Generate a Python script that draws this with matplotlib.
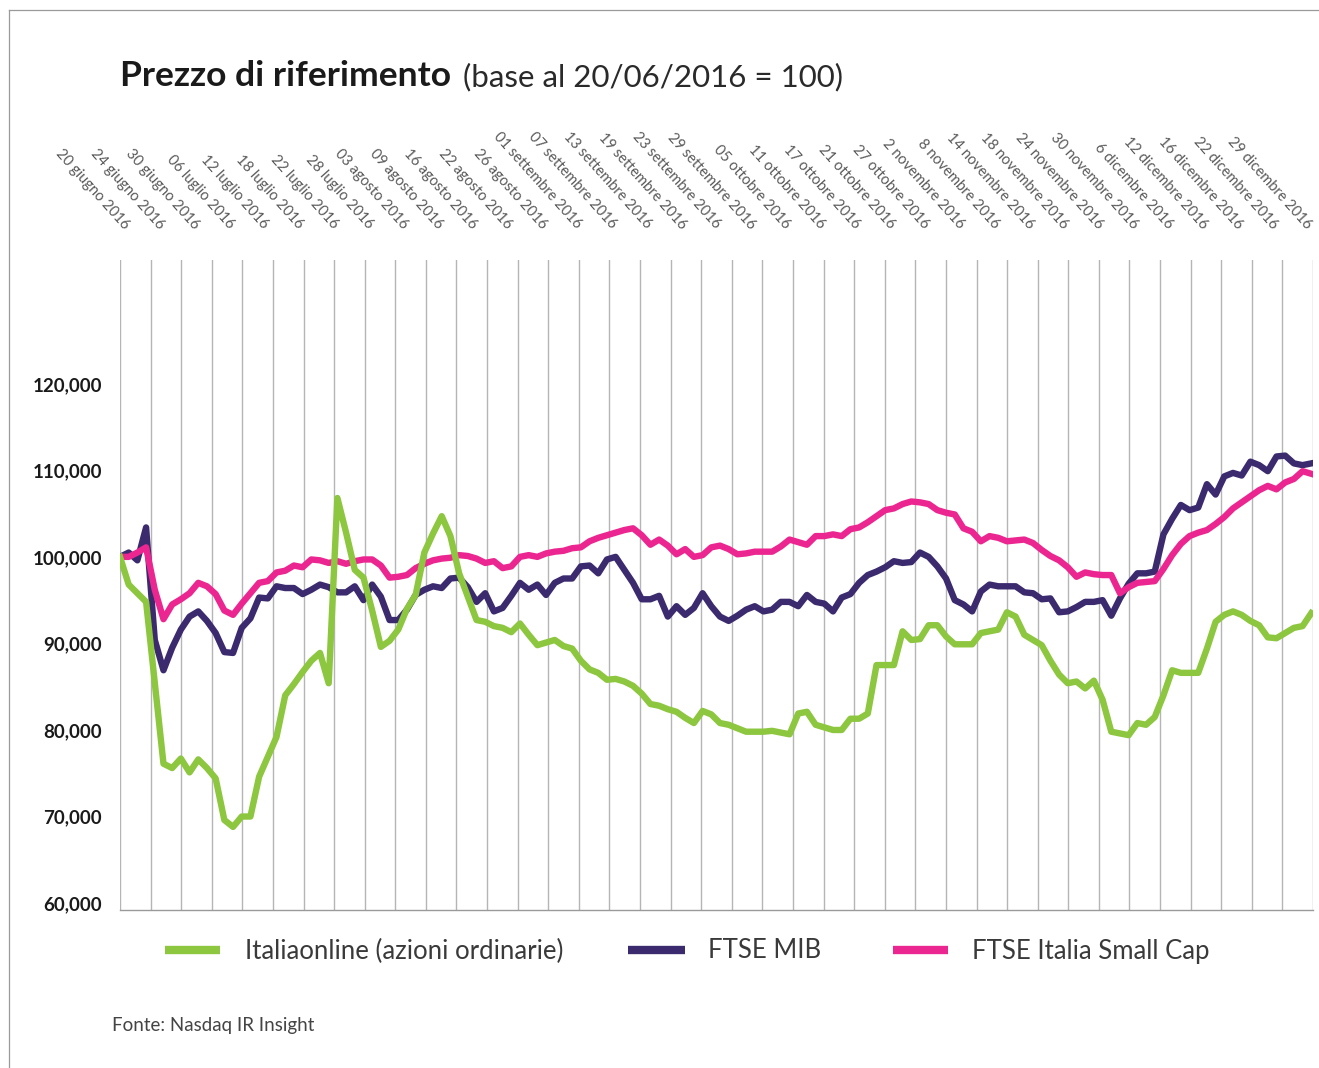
import matplotlib
matplotlib.use("Agg")
import matplotlib.pyplot as plt
from matplotlib.lines import Line2D
import numpy as np

W, H, DPI = 1319, 1068, 100

# ---------------- data ----------------
DATE_LABELS = [
    "20 giugno 2016", "24 giugno 2016", "30 giugno 2016", "06 luglio 2016",
    "12 luglio 2016", "18 luglio 2016", "22 luglio 2016", "28 luglio 2016",
    "03 agosto 2016", "09 agosto 2016", "16 agosto 2016", "22 agosto 2016",
    "26 agosto 2016", "01 settembre 2016", "07 settembre 2016", "13 settembre 2016",
    "19 settembre 2016", "23 settembre 2016", "29 settembre 2016", "05 ottobre 2016",
    "11 ottobre 2016", "17 ottobre 2016", "21 ottobre 2016", "27 ottobre 2016",
    "2 novembre 2016", "8 novembre 2016", "14 novembre 2016", "18 novembre 2016",
    "24 novembre 2016", "30 novembre 2016", "6 dicembre 2016", "12 dicembre 2016",
    "16 dicembre 2016", "22 dicembre 2016", "29 dicembre 2016",
]
LABEL_EVERY = 4  # one label every 4 trading days

italiaonline = [
    100.0, 96.8, 95.8, 94.8, 85.5, 76.1, 75.6, 76.7, 75.1, 76.6,
    75.6, 74.4, 69.6, 68.8, 70.0, 70.0, 74.6, 76.9, 79.2, 84.0,
    85.3, 86.7, 88.0, 88.9, 85.4, 106.8, 102.8, 98.5, 97.6, 93.8,
    89.6, 90.3, 91.6, 94.0, 95.6, 100.5, 102.7, 104.7, 102.4, 98.1,
    95.4, 92.7, 92.5, 92.0, 91.8, 91.3, 92.3, 91.0, 89.8, 90.1,
    90.4, 89.7, 89.4, 88.0, 87.0, 86.6, 85.8, 85.9, 85.6, 85.1,
    84.2, 83.0, 82.8, 82.4, 82.1, 81.4, 80.8, 82.2, 81.8, 80.8,
    80.6, 80.2, 79.8, 79.8, 79.8, 79.9, 79.7, 79.5, 81.9, 82.1,
    80.6, 80.3, 80.0, 80.0, 81.3, 81.3, 81.9, 87.5, 87.5, 87.5,
    91.4, 90.4, 90.5, 92.1, 92.1, 90.8, 89.9, 89.9, 89.9, 91.2,
    91.4, 91.6, 93.6, 93.1, 91.0, 90.4, 89.8, 88.0, 86.4, 85.4,
    85.6, 84.8, 85.7, 83.5, 79.8, 79.6, 79.4, 80.8, 80.6, 81.5,
    84.0, 86.9, 86.6, 86.6, 86.6, 89.4, 92.5, 93.3, 93.7, 93.3,
    92.6, 92.1, 90.7, 90.6, 91.2, 91.8, 92.0, 93.5,
]

ftse_mib = [
    100.0, 100.5, 99.6, 103.4, 90.4, 86.9, 89.5, 91.6, 93.1, 93.7,
    92.6, 91.2, 89.0, 88.9, 91.8, 92.9, 95.3, 95.2, 96.6, 96.4,
    96.4, 95.7, 96.2, 96.8, 96.5, 95.9, 95.9, 96.6, 95.0, 96.8,
    95.4, 92.7, 92.7, 93.9, 95.6, 96.2, 96.6, 96.4, 97.5, 97.6,
    96.5, 94.8, 95.8, 93.7, 94.1, 95.5, 97.0, 96.2, 96.8, 95.6,
    97.0, 97.5, 97.5, 98.9, 99.0, 98.1, 99.7, 100.0, 98.5, 97.0,
    95.1, 95.1, 95.5, 93.1, 94.3, 93.3, 94.1, 95.8, 94.3, 93.1,
    92.6, 93.2, 93.9, 94.3, 93.7, 93.9, 94.8, 94.8, 94.3, 95.6,
    94.8, 94.6, 93.7, 95.3, 95.7, 97.0, 97.9, 98.3, 98.8, 99.5,
    99.3, 99.4, 100.5, 100.0, 98.9, 97.5, 95.0, 94.5, 93.7, 96.0,
    96.8, 96.6, 96.6, 96.6, 95.9, 95.8, 95.1, 95.2, 93.6, 93.7,
    94.2, 94.8, 94.8, 95.0, 93.2, 95.2, 96.9, 98.1, 98.1, 98.3,
    102.6, 104.4, 106.0, 105.4, 105.7, 108.4, 107.2, 109.3, 109.7, 109.4,
    111.0, 110.6, 109.9, 111.6, 111.7, 110.8, 110.6, 110.8,
]

ftse_small_cap = [
    100.0, 100.0, 100.5, 101.1, 96.2, 92.8, 94.5, 95.1, 95.8, 97.0,
    96.6, 95.7, 93.8, 93.3, 94.6, 95.8, 97.0, 97.2, 98.2, 98.4,
    99.0, 98.8, 99.7, 99.6, 99.3, 99.5, 99.2, 99.5, 99.7, 99.7,
    99.0, 97.6, 97.7, 97.9, 98.7, 99.2, 99.6, 99.8, 99.9, 100.2,
    100.1, 99.8, 99.3, 99.5, 98.7, 98.9, 100.0, 100.2, 100.0, 100.4,
    100.6, 100.7, 101.0, 101.1, 101.8, 102.2, 102.5, 102.8, 103.1, 103.3,
    102.5, 101.4, 102.0, 101.3, 100.3, 100.9, 100.0, 100.2, 101.1, 101.3,
    100.9, 100.3, 100.4, 100.6, 100.6, 100.6, 101.2, 102.0, 101.7, 101.4,
    102.4, 102.4, 102.6, 102.4, 103.2, 103.4, 104.0, 104.7, 105.4, 105.6,
    106.1, 106.4, 106.3, 106.1, 105.4, 105.1, 104.9, 103.3, 102.9, 101.8,
    102.4, 102.2, 101.8, 101.9, 102.0, 101.6, 100.8, 100.1, 99.6, 98.8,
    97.7, 98.2, 98.0, 97.9, 97.9, 95.8, 96.5, 97.0, 97.1, 97.2,
    98.6, 100.2, 101.5, 102.4, 102.8, 103.1, 103.8, 104.6, 105.6, 106.3,
    107.0, 107.7, 108.2, 107.8, 108.6, 109.0, 109.9, 109.6,
]

SERIES_NAMES = ["Italiaonline (azioni ordinarie)", "FTSE MIB", "FTSE Italia Small Cap"]
Y_TICKS = [60, 70, 80, 90, 100, 110, 120]

# ---------------- style ----------------
GREEN, NAVY, PINK = "#8dc63f", "#3b2a6e", "#ec2690"
plt.rcParams['font.family'] = ['Lato', 'DejaVu Sans']

fig = plt.figure(figsize=(W / DPI, H / DPI), dpi=DPI)
fig.patch.set_facecolor("white")


def fx(px):
    return px / W


def fy(py):
    return 1 - py / H


# page frame lines (top and left)
fig.add_artist(Line2D([fx(9), fx(W)], [fy(10), fy(10)], color="#9a9a9a", lw=0.9))
fig.add_artist(Line2D([fx(9), fx(9)], [fy(10), 0], color="#9a9a9a", lw=0.9))

ax = fig.add_axes([fx(120), fy(910), fx(1313) - fx(120), fy(260) - fy(910)])
n = len(italiaonline)
x = np.arange(n)
ax.set_xlim(0, n - 1 + 0.2)
ax.set_ylim(59.2, 134.3)

for g in np.linspace(0, n - 1 + 0.2, 40):
    ax.axvline(g, color="#b5b5b5", lw=1.0, zorder=1)

ax.plot(x, ftse_mib, color=NAVY, lw=4.6, solid_joinstyle="round", zorder=3)
ax.plot(x, ftse_small_cap, color=PINK, lw=4.6, solid_joinstyle="round", zorder=4)
ax.plot(x, italiaonline, color=GREEN, lw=4.6, solid_joinstyle="round", zorder=5)

for s in ("top", "right", "left"):
    ax.spines[s].set_visible(False)
ax.spines["bottom"].set_color("#9a9a9a")
ax.spines["bottom"].set_linewidth(1.0)

ax.set_xticks([])
ax.set_yticks(Y_TICKS)
ax.set_yticklabels([f"{int(v * 1000):,}" for v in Y_TICKS])
ax.tick_params(axis="y", length=0, pad=13, labelsize=13.5, labelcolor="#1a1a1a")
for lbl in ax.get_yticklabels():
    lbl.set_fontweight("bold")

# rotated date labels above the plot
for k, lab in enumerate(DATE_LABELS):
    ax.annotate(lab, xy=(k * LABEL_EVERY, 1), xycoords=("data", "axes fraction"),
                xytext=(7, 33), textcoords="offset pixels", rotation=-48,
                rotation_mode="anchor", ha="right", va="center",
                fontsize=10.5, color="#5a5a5a", fontweight="normal", annotation_clip=False)

# title
t1 = fig.text(fx(120), fy(86), "Prezzo di riferimento", fontsize=25.5, fontweight="bold",
              color="#1a1a1a", va="baseline", ha="left")
fig.canvas.draw()
bb = t1.get_window_extent(renderer=fig.canvas.get_renderer())
fig.text((bb.x1 + 12) / W, fy(86), "(base al 20/06/2016 = 100)", fontsize=22.5,
         fontweight="normal", color="#2a2a2a", va="baseline", ha="left")

# legend
legend_pos = [(165, 220, 245), (628, 685, 708), (893, 948, 972)]
for (a, b, t), name, col in zip(legend_pos, SERIES_NAMES, [GREEN, NAVY, PINK]):
    fig.add_artist(Line2D([fx(a), fx(b)], [fy(950), fy(950)], color=col, lw=6,
                          solid_capstyle="butt"))
    fig.text(fx(t), fy(951), name, fontsize=18.5, fontweight="normal", color="#3a3a3a",
             va="center", ha="left")

fig.text(fx(112), fy(1026), "Fonte: Nasdaq IR Insight", fontsize=13.5, fontweight="normal",
         color="#444444", va="center", ha="left")

fig.savefig("out.png", dpi=DPI)
